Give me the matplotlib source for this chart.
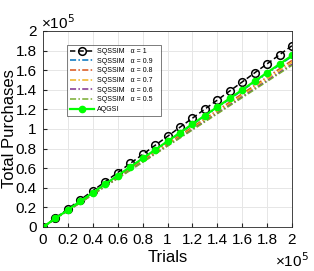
import matplotlib
matplotlib.use("Agg")
import matplotlib.pyplot as plt
from matplotlib.ticker import FuncFormatter

plt.rcParams['font.family'] = ['Liberation Sans', 'DejaVu Sans']

trials = [0, 10000, 20000, 30000, 40000, 50000, 60000, 70000, 80000, 90000, 100000,
          110000, 120000, 130000, 140000, 150000, 160000, 170000, 180000, 190000, 200000]

sqssim_a1 = [0, 9300, 18500, 27800, 37000, 46300, 55500, 64800, 74000, 83300, 92500,
             101800, 111000, 120300, 129500, 138800, 148000, 157300, 166500, 175800, 185000]
sqssim_a09 = [0, 8700, 17400, 26100, 34800, 43500, 52200, 60900, 69600, 78300, 87000,
              95700, 104400, 113100, 121800, 130500, 139200, 147900, 156600, 165300, 174000]
sqssim_a08 = [0, 8500, 17000, 25500, 34000, 42500, 51000, 59500, 68000, 76500, 85000,
              93500, 102000, 110500, 119000, 127500, 136000, 144500, 153000, 161500, 170000]
sqssim_a07 = [0, 8400, 16800, 25200, 33600, 42000, 50400, 58800, 67200, 75600, 84000,
              92400, 100800, 109200, 117600, 126000, 134400, 142800, 151200, 159600, 168000]
sqssim_a06 = [0, 8300, 16600, 24900, 33200, 41500, 49800, 58100, 66400, 74700, 83000,
              91300, 99600, 107900, 116200, 124500, 132800, 141100, 149400, 157700, 166000]
sqssim_a05 = [0, 8250, 16500, 24750, 33000, 41250, 49500, 57750, 66000, 74250, 82500,
              90750, 99000, 107250, 115500, 123750, 132000, 140250, 148500, 156750, 165000]
aqgsi = [0, 8750, 17500, 26250, 35000, 43750, 52500, 61250, 70000, 78750, 87500,
         96250, 105000, 113750, 122500, 131250, 140000, 148750, 157500, 166250, 175000]

labels = ['SQSSIM   α = 1', 'SQSSIM   α = 0.9' + '\u00a0' * 3, 'SQSSIM   α = 0.8',
          'SQSSIM   α = 0.7', 'SQSSIM   α = 0.6', 'SQSSIM   α = 0.5', 'AQGSI']

fig = plt.figure(figsize=(3.14, 2.71), dpi=100)
ax = fig.add_axes([43/314, 1-227/271, 249/314, 196/271])

ax.plot(trials, sqssim_a1, color='black', linestyle=(0, (3.5, 2)), linewidth=1.1,
        marker='o', markersize=5.5, markerfacecolor='none', markeredgewidth=1.1, label=labels[0])
cols = ['#0072BD', '#D95319', '#EDB120', '#7E2F8E', '#77AC30']
for ys, c, lab in zip([sqssim_a09, sqssim_a08, sqssim_a07, sqssim_a06, sqssim_a05], cols, labels[1:6]):
    ax.plot(trials, ys, color=c, linestyle=(0, (4, 1.5, 1, 1.5)), linewidth=1.1, label=lab)
ax.plot(trials, aqgsi, color='#00FF00', linestyle='-', linewidth=1.6,
        marker='o', markersize=4.5, label=labels[6])

ax.set_xlim(0, 200000)
ax.set_ylim(0, 200000)
ticks = [i * 20000 for i in range(11)]
ax.set_xticks(ticks)
ax.set_yticks(ticks)
fmt = FuncFormatter(lambda v, p: ('%g' % (v / 1e5)))
ax.xaxis.set_major_formatter(fmt)
ax.yaxis.set_major_formatter(fmt)
ax.tick_params(direction='in', labelsize=11, length=3, color='#262626', pad=4.5)
ax.grid(True, color='#E6E6E6', linewidth=0.7)
ax.set_axisbelow(True)
for s in ax.spines.values():
    s.set_color('#262626')
    s.set_linewidth(0.6)
ax.set_xlabel('Trials', fontsize=12)
ax.set_ylabel('Total Purchases', fontsize=12)
ax.xaxis.set_label_coords(0.5, -(250 - 227) / 196)
ax.yaxis.set_label_coords(-(43 - 17) / 249, 0.5)
ax.xaxis.label.set_va('top')

fig.text(41/314, 1-23/271, '×10$^5$', fontsize=11, ha='left', va='center')
fig.text(275/314, 1-261/271, '×10$^5$', fontsize=11, ha='left', va='center')

leg = ax.legend(loc='upper left', bbox_to_anchor=((67-43)/249, (227-45)/196), fontsize=5,
                frameon=True, fancybox=False, edgecolor='#404040', borderpad=0.45,
                handlelength=3.4, labelspacing=0.38, handletextpad=0.4, borderaxespad=0)
leg.get_frame().set_linewidth(0.6)

fig.savefig('out.png', dpi=100)
